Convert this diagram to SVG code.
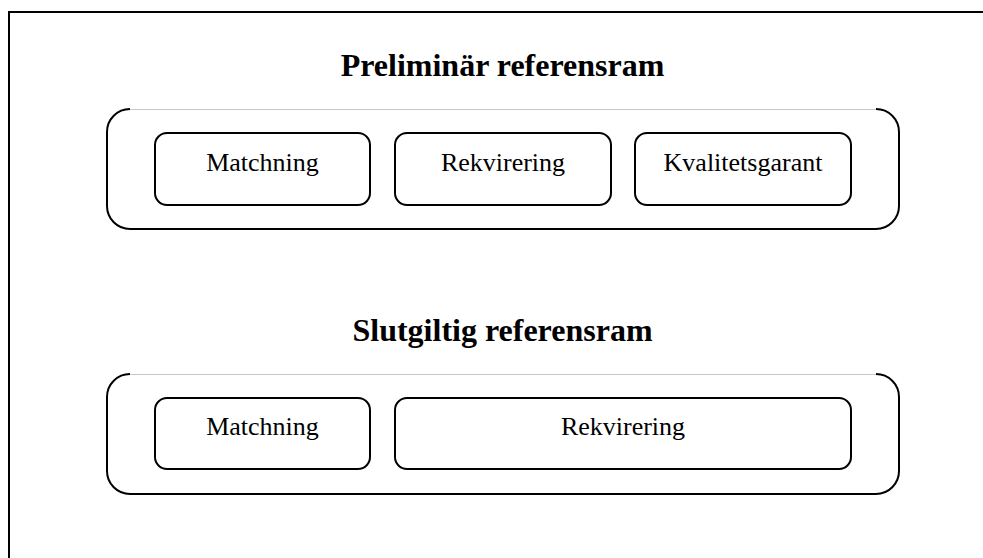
<svg xmlns="http://www.w3.org/2000/svg" width="983" height="558" viewBox="0 0 983 558">
<style>
.frame{fill:none;stroke:#000;stroke-width:2}
.cont{fill:none;stroke:#000;stroke-width:2}
.gap{fill:none;stroke:#c8c8c8;stroke-width:1}
.box{fill:#fff;stroke:#000;stroke-width:2}
.title{font-family:"Liberation Serif","Times New Roman",serif;font-size:32px;font-weight:bold;text-anchor:middle;fill:#000}
.lbl{font-family:"Liberation Serif","Times New Roman",serif;font-size:26px;text-anchor:middle;fill:#000}
</style>
<rect width="983" height="558" fill="#fff"/>
<path class="frame" d="M9,560 L9,12 L985,12"/>
<g id="preliminar">
<text class="title" x="502.5" y="76">Preliminär referensram</text>
<path class="gap" d="M130,109.5 L876,109.5"/>
<path class="cont" d="M130,109 A23,23 0 0 0 107,132 L107,206 A23,23 0 0 0 130,229 L876,229 A23,23 0 0 0 899,206 L899,132 A23,23 0 0 0 876,109"/>
</g>
<g id="p-matchning"><rect class="box" x="155" y="133" width="215" height="72" rx="12"/><text class="lbl" x="262.5" y="171">Matchning</text></g>
<g id="p-rekvirering"><rect class="box" x="395" y="133" width="216" height="72" rx="12"/><text class="lbl" x="503" y="171">Rekvirering</text></g>
<g id="p-kvalitetsgarant"><rect class="box" x="635" y="133" width="216" height="72" rx="12"/><text class="lbl" x="743" y="171">Kvalitetsgarant</text></g>
<g id="slutgiltig">
<text class="title" x="502.5" y="341">Slutgiltig referensram</text>
<path class="gap" d="M130,374.5 L876,374.5"/>
<path class="cont" d="M130,374 A23,23 0 0 0 107,397 L107,471 A23,23 0 0 0 130,494 L876,494 A23,23 0 0 0 899,471 L899,397 A23,23 0 0 0 876,374"/>
</g>
<g id="s-matchning"><rect class="box" x="155" y="398" width="215" height="71" rx="12"/><text class="lbl" x="262.5" y="435">Matchning</text></g>
<g id="s-rekvirering"><rect class="box" x="395" y="398" width="456" height="71" rx="12"/><text class="lbl" x="623" y="435">Rekvirering</text></g>
<g id="connectors"></g>
</svg>
